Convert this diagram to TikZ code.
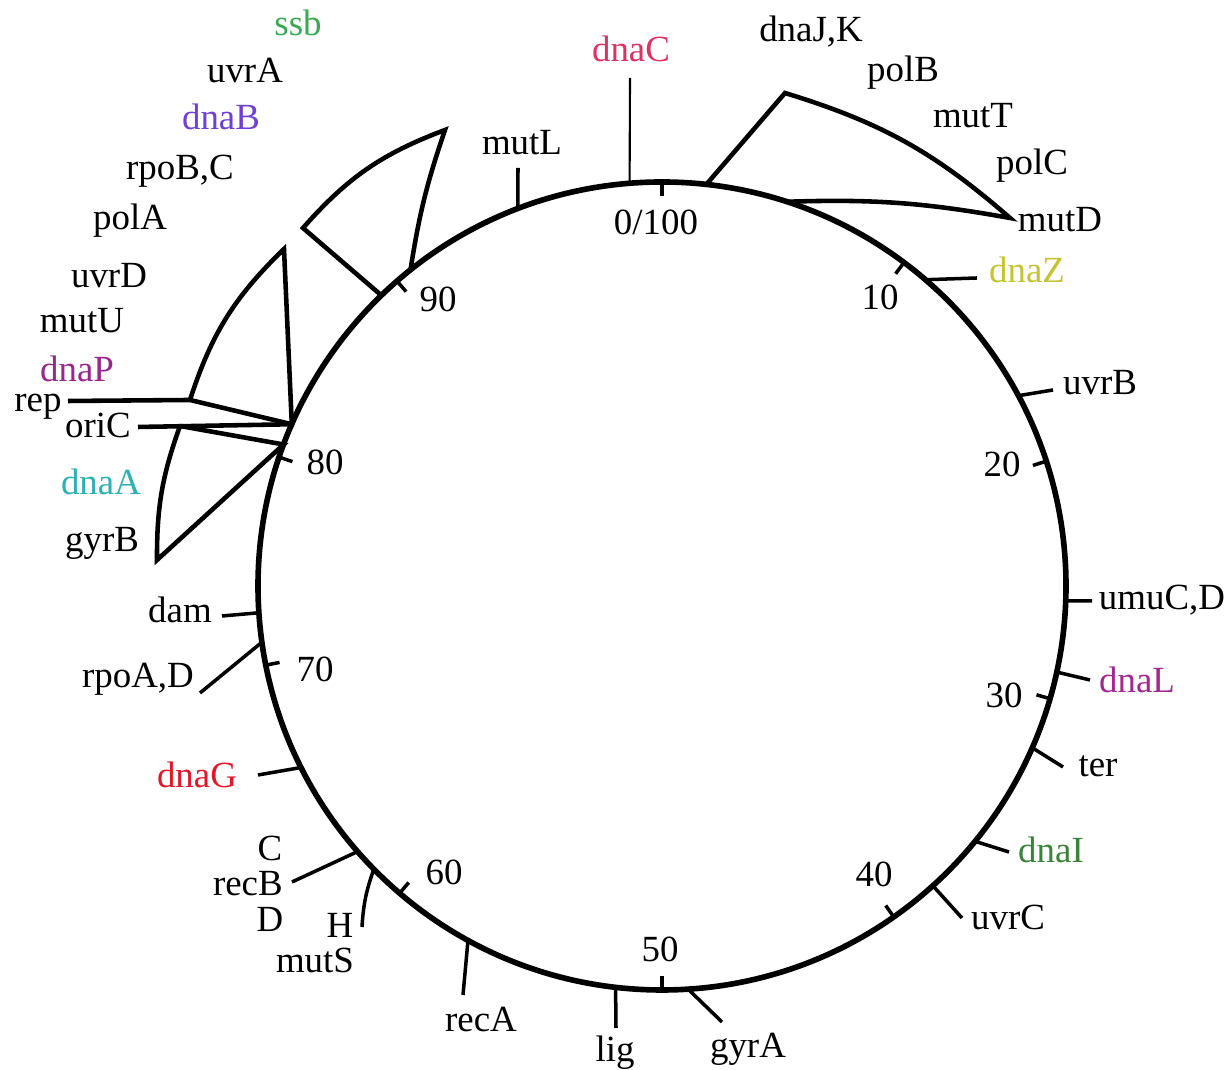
\documentclass[tikz,border=0pt]{standalone}
\usepackage{fontspec}
\setmainfont{Liberation Serif}
\usepackage{tikz}

\definecolor{ssbgreen}{RGB}{58,170,82}
\definecolor{dnaBviolet}{RGB}{112,64,214}
\definecolor{dnaPpurple}{RGB}{152,40,140}
\definecolor{dnaAteal}{RGB}{44,178,180}
\definecolor{dnaGred}{RGB}{224,24,40}
\definecolor{dnaCpink}{RGB}{218,52,100}
\definecolor{dnaZyellow}{RGB}{196,196,48}
\definecolor{dnaLpurple}{RGB}{164,40,140}
\definecolor{dnaIgreen}{RGB}{58,132,58}

\begin{document}
\begin{tikzpicture}[
		x=0.02cm, y=0.02cm,
		every node/.style={anchor=base, inner sep=0pt, font=\fontsize{21}{25}\selectfont},
		chromosome/.style={line width=3.2pt},
		genetick/.style={line width=2pt},
		unittick/.style={line width=2pt},
		wedge/.style={line width=2.6pt, line join=miter}
	]
  \useasboundingbox (0,0) rectangle (1231,1070);
  \coordinate (O) at (662,484);
  \draw [chromosome] (O) circle [radius=404];

  % points on the map
  \begin{scope}[shift={(O)}]
    \foreach \name/\ang in {u0/90, u10/53.2, u20/18, u30/-16.2, u40/-55, u50/-90,
        u60/-130.5, u70/-168.7, u80/161.4, u90/131} {
      \coordinate (\name-c) at (\ang:404);
      \coordinate (\name-i) at (\ang:390);
    }
    \foreach \name/\ang in {mutL/110.9, dnaC/94.6, dnaZ/49.3, uvrB/28.1, umuCD/-2.1,
        dnaL/-12.3, ter/-23.6, dnaI/-39.2, uvrC/-47.9, gyrA/-86.3, lig/-96.6,
        recA/-118.7, mutS/-135.5, recB/-138.9, dnaG/-153.3, rpoAD/-172, dam/-176.2,
        jk1/83.7, jk2/72, ab1/134, ab2/128.5, rep/156.4, ori/159.5} {
      \coordinate (\name-c) at (\ang:404);
    }
  \end{scope}

  \foreach \name in {u0,u10,u20,u30,u40,u50,u60,u70,u80,u90}
    \draw [unittick] (\name-c) -- (\name-i);

  \node (n0) at (656,835) {0/100};
  \node (n10) at (880,760) {10};
  \node (n20) at (1002,593) {20};
  \node (n30) at (1004,362) {30};
  \node (n40) at (874,183) {40};
  \node (n50) at (660,108) {50};
  \node (n60) at (444,185) {60};
  \node (n70) at (315,388) {70};
  \node (n80) at (325,595) {80};
  \node (n90) at (438,758) {90};

  % single genes
  \coordinate (mutL-e) at (518,902);
  \coordinate (dnaC-e) at (630,992);
  \coordinate (dnaZ-e) at (977,792);
  \coordinate (uvrB-e) at (1053,680);
  \coordinate (umuCD-e) at (1092,469);
  \coordinate (dnaL-e) at (1090,390);
  \coordinate (ter-e) at (1063,303);
  \coordinate (dnaI-e) at (1009,218);
  \coordinate (uvrC-e) at (962,152);
  \coordinate (gyrA-e) at (722,48);
  \coordinate (lig-e) at (616,42);
  \coordinate (recA-e) at (463,75);
  \coordinate (mutS-e) at (362,143);
  \coordinate (recB-e) at (292,188);
  \coordinate (dnaG-e) at (258,295);
  \coordinate (rpoAD-e) at (200,377);
  \coordinate (dam-e) at (222,454);

  \foreach \name in {mutL,dnaZ,uvrB,umuCD,dnaL,ter,dnaI,uvrC,gyrA,lig,recA,recB,dnaG,rpoAD,dam}
    \draw [genetick] (\name-c) -- (\name-e);
  \draw [line width=1.2pt] (dnaC-c) -- (dnaC-e);
  \draw [genetick] (mutS-c) to [bend right=8] (mutS-e);

  \node (mutL) at (522,915) {mutL};
  \node (dnaC) [text=dnaCpink] at (631,1008) {dnaC};
  \node (dnaZ) [text=dnaZyellow] at (1027,787) {dnaZ};
  \node (uvrB) at (1100,675) {uvrB};
  \node (umuCD) at (1162,460) {umuC,D};
  \node (dnaL) [text=dnaLpurple] at (1137,377) {dnaL};
  \node (ter) at (1098,293) {ter};
  \node (dnaI) [text=dnaIgreen] at (1051,207) {dnaI};
  \node (uvrC) at (1008,140) {uvrC};
  \node (gyrA) at (748,12) {gyrA};
  \node (lig) at (615,8) {lig};
  \node (recA) at (481,38) {recA};
  \node (mutS) at (315,97) {mutS};
  \node (mutH) at (340,132) {H};
  \node (recB) [anchor=base east] at (283,174) {recB};
  \node (recC) at (270,209) {C};
  \node (recD) at (270,138) {D};
  \node (dnaG) [text=dnaGred] at (197,282) {dnaG};
  \node (rpoAD) at (138,382) {rpoA,D};
  \node (dam) at (180,447) {dam};

  % clustered genes
  \coordinate (jk-top) at (785,977);
  \coordinate (jk-tip) at (1010,852);
  \draw [wedge] (jk1-c) -- (jk-top) to [bend left=12] (jk-tip) to [bend right=6] (jk2-c);

  \node (dnaJK) at (811,1028) {dnaJ,K};
  \node (polB) at (903,988) {polB};
  \node (mutT) at (973,942) {mutT};
  \node (polC) at (1032,895) {polC};
  \node (mutD) at (1060,838) {mutD};

  \coordinate (ab-left) at (303,842);
  \coordinate (ab-top) at (445,940);
  \draw [wedge] (ab1-c) -- (ab-left) to [bend left=14] (ab-top) to [bend right=5] (ab2-c);

  \coordinate (rep-top) at (284,821);
  \coordinate (rep-j) at (190,670);
  \coordinate (rep-e) at (68,669);
  \draw [wedge] (rep-e) -- (rep-j) -- (rep-c) -- (rep-top) to [bend right=14] (rep-j);

  \coordinate (ori-e) at (138,643);
  \coordinate (ori-top) at (180,644);
  \coordinate (ori-bot) at (157,510);
  \draw [wedge] (ori-e) -- (rep-c);
  \draw [wedge] (ori-top) -- (ori-c) -- (ori-bot) to [bend left=10] (ori-top);

  \node (ssb) [text=ssbgreen] at (298,1034) {ssb};
  \node (uvrA) at (245,987) {uvrA};
  \node (dnaB) [text=dnaBviolet] at (221,940) {dnaB};
  \node (rpoBC) at (180,890) {rpoB,C};
  \node (polA) at (130,840) {polA};
  \node (uvrD) at (109,782) {uvrD};
  \node (mutU) at (82,737) {mutU};
  \node (dnaP) [text=dnaPpurple] at (77,688) {dnaP};
  \node (rep) at (38,658) {rep};
  \node (oriC) at (98,632) {oriC};
  \node (dnaA) [text=dnaAteal] at (101,575) {dnaA};
  \node (gyrB) at (102,518) {gyrB};
\end{tikzpicture}
\end{document}
